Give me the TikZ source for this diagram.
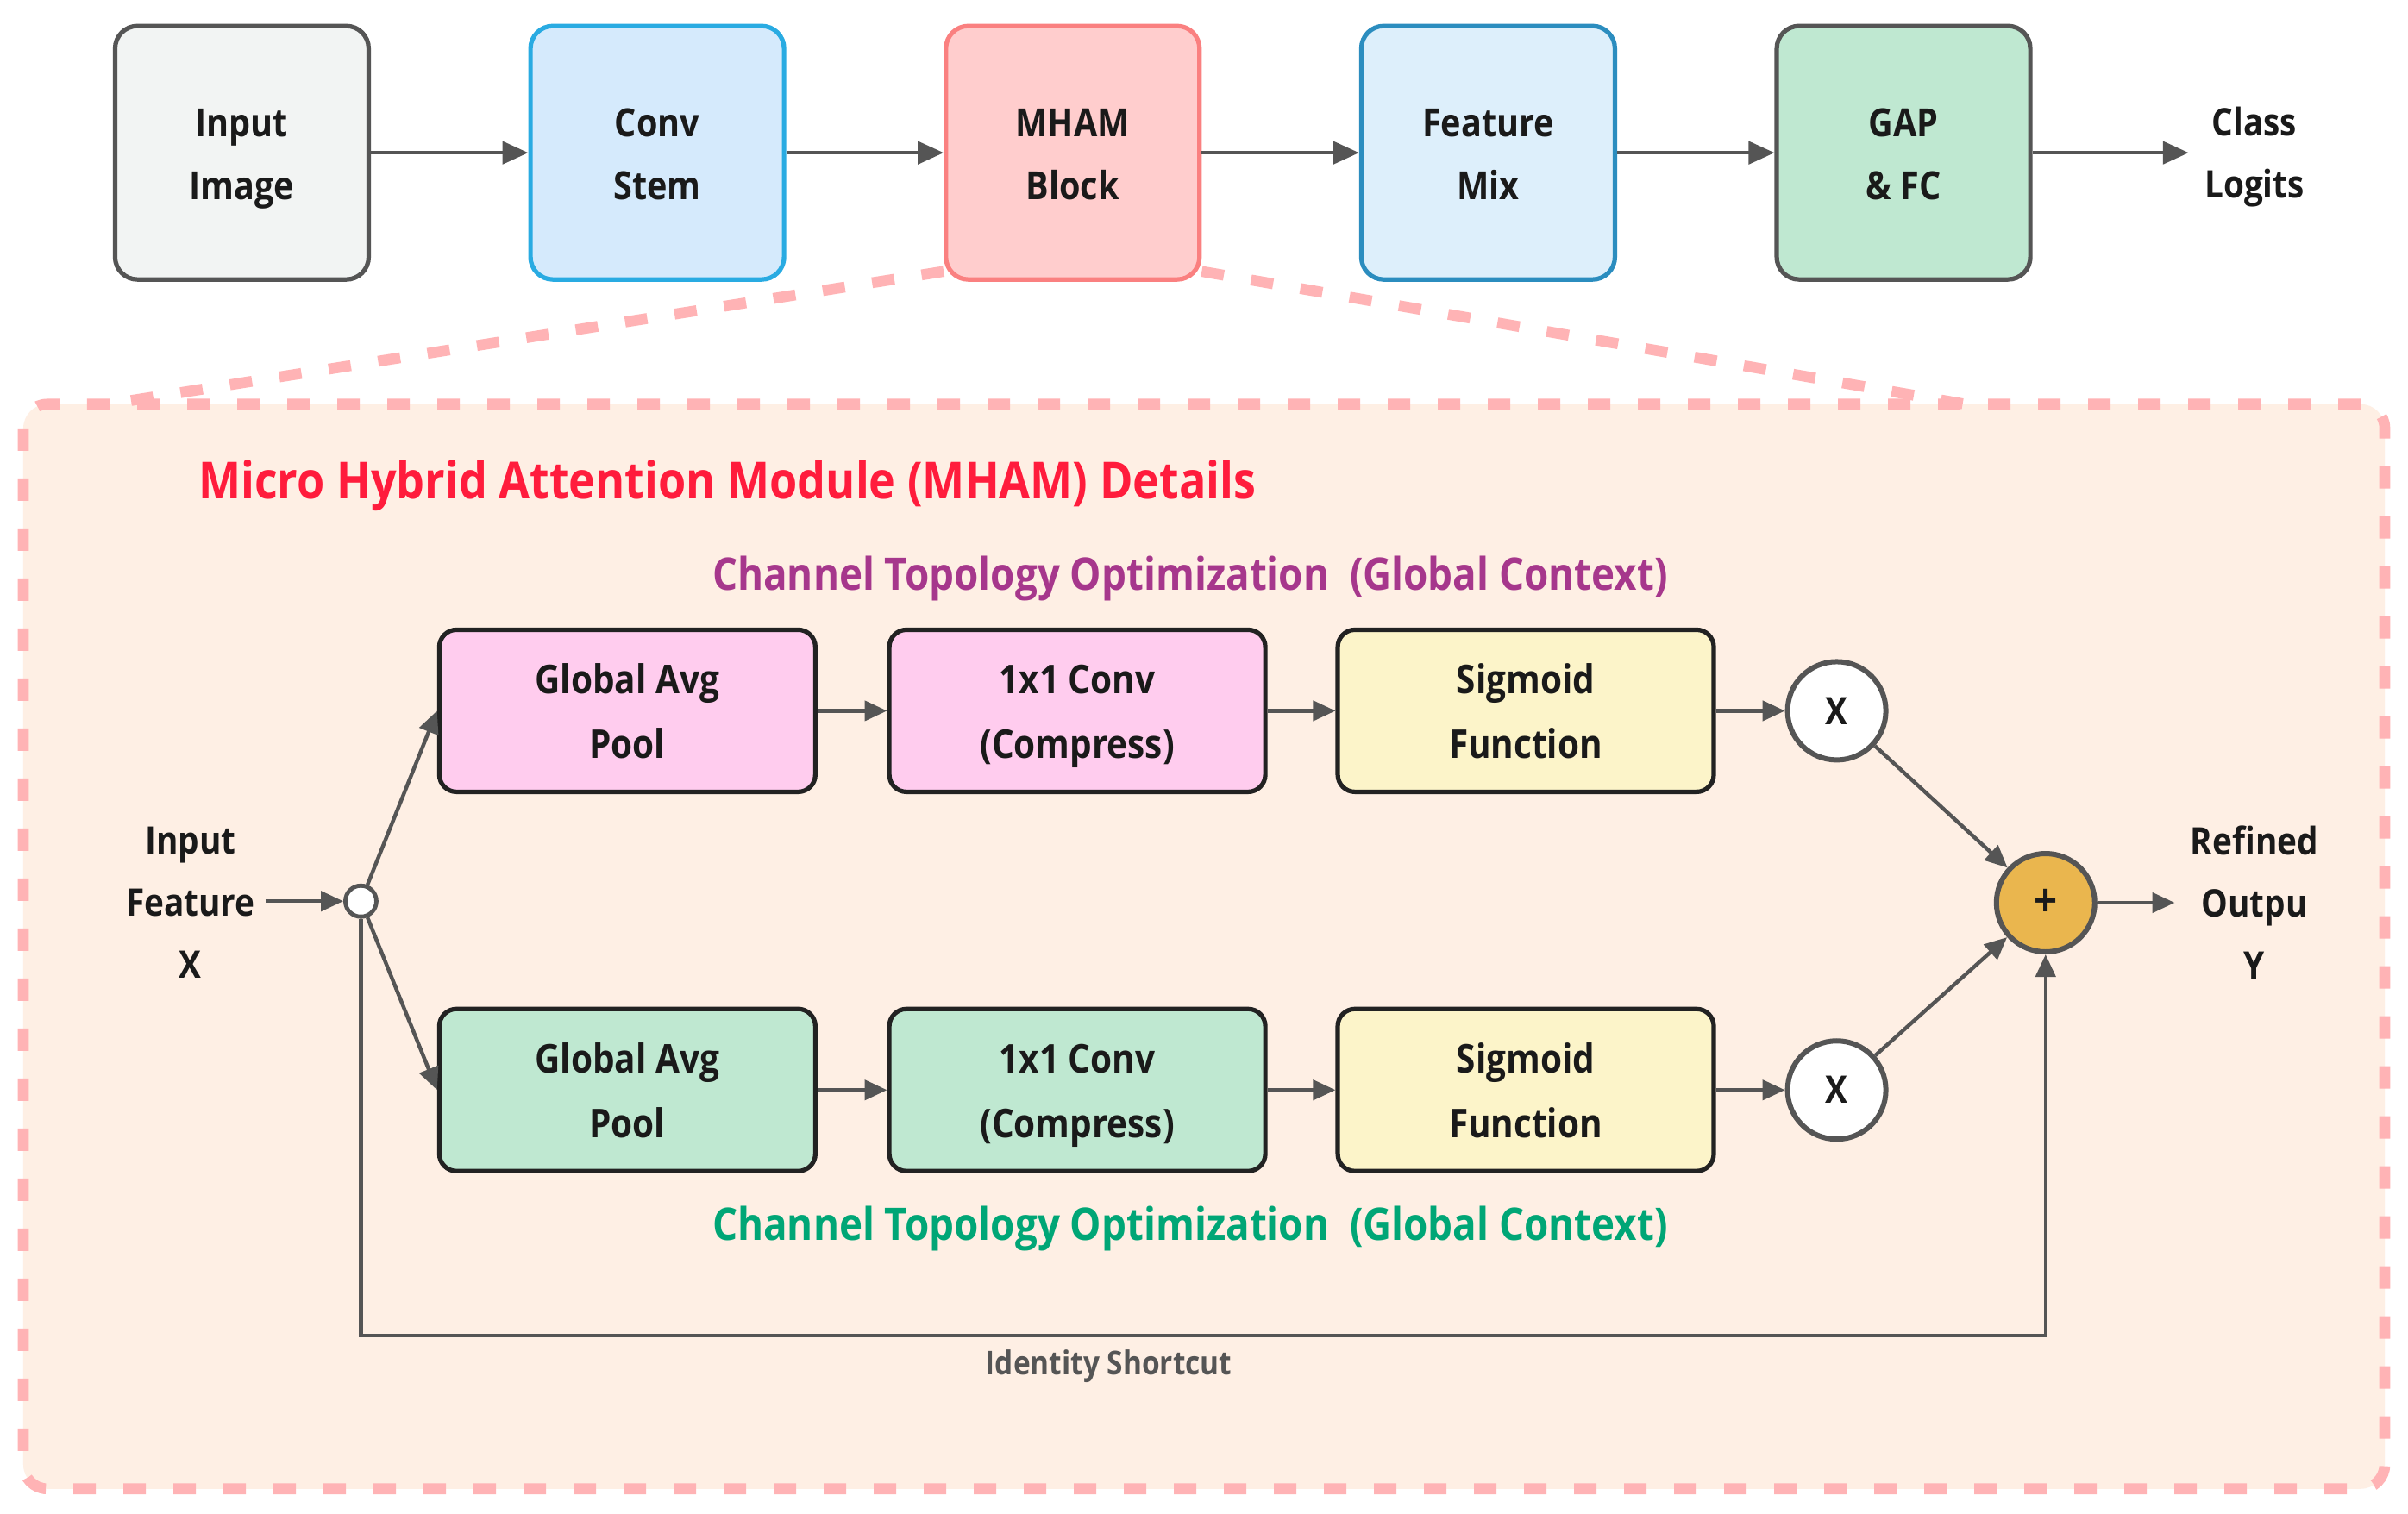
\documentclass[tikz,border=0pt]{standalone}
\usepackage{fontspec}
\setmainfont{Open Sans}[FakeStretch=0.88]
\usetikzlibrary{arrows.meta}
\definecolor{cgray}{HTML}{555555}
\definecolor{ctext}{HTML}{1A1A1A}
\definecolor{cdark}{HTML}{222222}
\definecolor{cinfill}{HTML}{F2F4F3}
\definecolor{cconvfill}{HTML}{D5EAFC}
\definecolor{cconvdraw}{HTML}{29ABE2}
\definecolor{cmhamfill}{HTML}{FFCDCD}
\definecolor{cmhamdraw}{HTML}{FA8080}
\definecolor{cfeatfill}{HTML}{DDEFFB}
\definecolor{cfeatdraw}{HTML}{2B8DBF}
\definecolor{cgreenfill}{HTML}{BFE8D1}
\definecolor{cpinkfill}{HTML}{FFCCEE}
\definecolor{cyellowfill}{HTML}{FCF4C9}
\definecolor{cpeach}{HTML}{FEEFE4}
\definecolor{cdash}{HTML}{FFB3B5}
\definecolor{cred}{RGB}{255,28,60}
\definecolor{cpurple}{RGB}{166,55,140}
\definecolor{cgreen}{RGB}{0,166,118}
\definecolor{corange}{HTML}{EAB64E}
\newcommand{\twl}[2]{\rule{0pt}{23.2pt}#1\\#2\vphantom{(g}}
\pgfdeclarelayer{bg}
\pgfsetlayers{bg,main}
\begin{document}
\begin{tikzpicture}[x=0.8903pt,y=-0.8903pt,
  topbox/.style={draw, rounded corners=13pt, minimum width=147pt, minimum height=147pt,
    line width=2.6pt, align=center, text=ctext,
    font=\bfseries\fontsize{22.5pt}{36.5pt}\selectfont},
  innerbox/.style={draw=cdark, rounded corners=10pt, minimum width=218pt, minimum height=94pt,
    line width=2.6pt, align=center, text=ctext,
    font=\bfseries\fontsize{23pt}{37.4pt}\selectfont},
  plaintext/.style={align=center, text=ctext, inner sep=8pt,
    font=\bfseries\fontsize{22pt}{36pt}\selectfont},
  opcircle/.style={circle, draw=cgray, line width=3pt, minimum size=57pt, inner sep=0pt,
    text=ctext, font=\bfseries\fontsize{22pt}{24pt}\selectfont},
  toparrow/.style={draw=cgray, line width=2.3pt, -{Triangle[length=15pt,width=13pt]}},
  inarrow/.style={draw=cgray, line width=2.2pt, -{Triangle[length=13pt,width=11.5pt]}},
  pinkdash/.style={draw=cdash, line width=6.3pt, dash pattern=on 13pt off 16pt}
]
\useasboundingbox (0,0) rectangle (1568,986);
\begin{pgfonlayer}{bg}
\fill[white] (0,0) rectangle (1568,986);
\end{pgfonlayer}

% top row
\node[topbox, fill=cinfill, draw=cgray] (inp) at (157.5,99.5) {\twl{Input}{Image}};
\node[topbox, fill=cconvfill, draw=cconvdraw] (conv) at (428,99.5) {\twl{Conv}{Stem}};
\node[topbox, fill=cmhamfill, draw=cmhamdraw] (mham) at (698.5,99.5) {\twl{MHAM}{Block}};
\node[topbox, fill=cfeatfill, draw=cfeatdraw] (feat) at (969,99.5) {\twl{Feature}{Mix}};
\node[topbox, fill=cgreenfill, draw=cgray] (gap) at (1239.5,99.5) {\twl{GAP}{\& FC}};
\node[plaintext, inner sep=9pt] (cls) at (1468,102) {Class\\Logits};

\draw[toparrow] (inp) -- (conv);
\draw[toparrow] (conv) -- (mham);
\draw[toparrow] (mham) -- (feat);
\draw[toparrow] (feat) -- (gap);
\draw[toparrow] (gap.east) -- (gap.east -| cls.west);

% module frame (background)
\coordinate (ml) at (72,263);
\coordinate (mr) at (1278,263);
\begin{pgfonlayer}{bg}
\node[pinkdash, fill=cpeach, rounded corners=14pt, minimum width=1369pt, minimum height=629pt,
  inner sep=0pt] (mod) at (784,616.5) {};
\draw[pinkdash] ([yshift=6pt]mham.south west) -- (ml);
\draw[pinkdash] ([yshift=6pt]mham.south east) -- (mr);
\end{pgfonlayer}

\node[anchor=west, text=cred, font=\bfseries\fontsize{29.6pt}{32pt}\selectfont, inner sep=0pt]
  (title) at (129,316) {Micro Hybrid Attention Module (MHAM) Details};
\node[text=cpurple, font=\bfseries\fontsize{26pt}{28pt}\selectfont, inner sep=0pt]
  (ctop) at (775,377) {Channel Topology Optimization~~(Global Context)};
\node[text=cgreen, font=\bfseries\fontsize{26pt}{28pt}\selectfont, inner sep=0pt]
  (cbot) at (775,800) {Channel Topology Optimization~~(Global Context)};

% inner rows
\node[innerbox, fill=cpinkfill] (g1) at (408.5,463) {\twl{Global Avg}{Pool}};
\node[innerbox, fill=cpinkfill] (c1) at (701.5,463) {\twl{1x1 Conv}{(Compress)}};
\node[innerbox, fill=cyellowfill] (s1) at (993.5,463) {\twl{Sigmoid}{Function}};
\node[innerbox, fill=cgreenfill] (g2) at (408.5,710) {\twl{Global Avg}{Pool}};
\node[innerbox, fill=cgreenfill] (c2) at (701.5,710) {\twl{1x1 Conv}{(Compress)}};
\node[innerbox, fill=cyellowfill] (s2) at (993.5,710) {\twl{Sigmoid}{Function}};

\node[opcircle, fill=white] (x1) at (1196,463) {X};
\node[opcircle, fill=white] (x2) at (1196,710) {X};
\node[opcircle, fill=corange, font=\bfseries\fontsize{27pt}{28pt}\selectfont] (plus) at (1332,588) {+};

\node[plaintext, inner sep=6pt] (inx) at (124,588) {Input\\Feature\\X};
\node[circle, draw=cgray, fill=white, line width=2.4pt, minimum size=18pt, inner sep=0pt] (split) at (235,587) {};
\node[plaintext, inner sep=9pt] (outy) at (1468,588) {Refined\\Outpu\\Y};

\draw[inarrow] (inx.east |- split) -- (split);
\draw[inarrow] (split) -- (g1.west);
\draw[inarrow] (split) -- (g2.west);
\draw[inarrow] (g1) -- (c1);
\draw[inarrow] (c1) -- (s1);
\draw[inarrow] (s1) -- (x1);
\draw[inarrow] (g2) -- (c2);
\draw[inarrow] (c2) -- (s2);
\draw[inarrow] (s2) -- (x2);
\draw[inarrow] (x1) -- (plus);
\draw[inarrow] (x2) -- (plus);
\draw[inarrow] (plus) -- (plus -| outy.west);

\coordinate (sc) at (784,870);
\draw[inarrow] (split.south) |- (sc) -| (plus.south);
\node[text=cgray, font=\bfseries\fontsize{19pt}{20pt}\selectfont, inner sep=0pt] (idl) at (722,890) {Identity Shortcut};
\end{tikzpicture}
\end{document}
